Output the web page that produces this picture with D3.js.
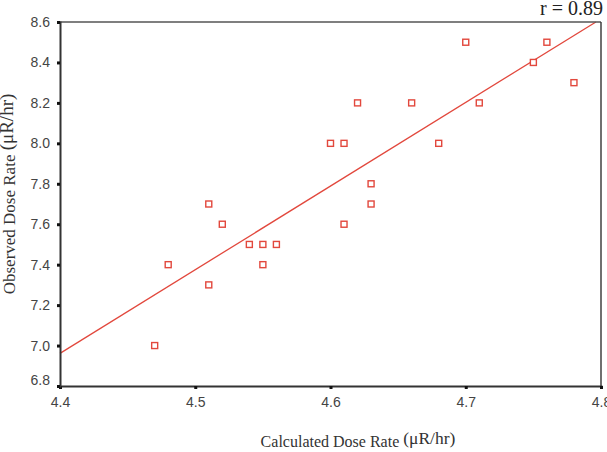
<!DOCTYPE html>
<html>
<head>
<meta charset="utf-8">
<script src="https://cdn.jsdelivr.net/npm/d3@7"></script>
<style>
  body { margin: 0; background: #fff; }
  svg { display: block; }
</style>
</head>
<body>
<script>
// chart values
const calculated = [4.47, 4.48, 4.51, 4.51, 4.52, 4.54, 4.55, 4.55, 4.56, 4.60, 4.61,
                    4.61, 4.62, 4.63, 4.63, 4.66, 4.68, 4.70, 4.71, 4.75, 4.76, 4.78];
const observed   = [7.0, 7.4, 7.3, 7.7, 7.6, 7.5, 7.5, 7.4, 7.5, 8.0, 8.0,
                    7.6, 8.2, 7.8, 7.7, 8.2, 8.0, 8.5, 8.2, 8.4, 8.5, 8.3];
const xTicks = [4.4, 4.5, 4.6, 4.7, 4.8];
const yTicks = [6.8, 7.0, 7.2, 7.4, 7.6, 7.8, 8.0, 8.2, 8.4, 8.6];
const rLabel = 'r = 0.89';

const width = 607;
const height = 452;
const margin = { top: 22, right: 6, bottom: 66, left: 60 };

const svg = d3.select('body')
  .append('svg')
  .attr('width', width)
  .attr('height', height);

const x = d3.scaleLinear()
  .domain([4.4, 4.8])
  .range([margin.left, width - margin.right]);

const y = d3.scaleLinear()
  .domain([6.8, 8.6])
  .range([height - margin.bottom, margin.top]);

const red = '#e2483d';

// least squares fit of the points
const data = calculated.map((c, i) => ({ x: c, y: observed[i] }));
const mx = d3.mean(calculated);
const my = d3.mean(observed);
const sxy = d3.sum(data, d => (d.x - mx) * (d.y - my));
const sxx = d3.sum(data, d => (d.x - mx) * (d.x - mx));
const slope = sxy / sxx;
const icpt = my - slope * mx;

// clip the line to the plot box
const x0 = 4.4;
let x1 = 4.8;
if (icpt + slope * x1 > 8.6) x1 = (8.6 - icpt) / slope;

svg.append('line')
  .attr('x1', x(x0)).attr('y1', y(icpt + slope * x0))
  .attr('x2', x(x1)).attr('y2', y(icpt + slope * x1))
  .attr('stroke', red)
  .attr('stroke-width', 1.3);

// frame: top and right
svg.append('line')
  .attr('x1', x(4.4)).attr('x2', x(4.8))
  .attr('y1', y(8.6)).attr('y2', y(8.6))
  .attr('stroke', '#555').attr('stroke-width', 1.6);
svg.append('line')
  .attr('x1', x(4.8)).attr('x2', x(4.8))
  .attr('y1', y(8.6)).attr('y2', y(6.8))
  .attr('stroke', '#333').attr('stroke-width', 1.4);

// axes
const xAxis = svg.append('g')
  .attr('transform', `translate(0,${y(6.8)})`)
  .call(d3.axisBottom(x).tickValues(xTicks).tickFormat(d3.format('.1f')).tickSize(3).tickPadding(8));

const yAxis = svg.append('g')
  .attr('transform', `translate(${x(4.4)},0)`)
  .call(d3.axisLeft(y).tickValues(yTicks).tickFormat(d3.format('.1f')).tickSize(3).tickPadding(7));

[xAxis, yAxis].forEach(g => {
  g.select('.domain').attr('stroke', '#333').attr('stroke-width', 2);
  g.selectAll('.tick line').attr('stroke', '#111').attr('stroke-width', 3);
  g.selectAll('.tick text')
    .attr('fill', '#444')
    .style('font-family', '"Liberation Sans", Arial, sans-serif')
    .style('font-size', '14px');
});

// bottom label sits a bit above its tick
yAxis.selectAll('.tick text').filter(d => d === 6.8).attr('dy', '-0.1em');

// points
svg.selectAll('rect.pt')
  .data(data)
  .enter()
  .append('rect')
  .attr('class', 'pt')
  .attr('x', d => x(d.x) - 3)
  .attr('y', d => y(d.y) - 3)
  .attr('width', 6)
  .attr('height', 6)
  .attr('fill', '#fff')
  .attr('stroke', red)
  .attr('stroke-width', 1.4);

// r label
svg.append('text')
  .attr('x', 603)
  .attr('y', 15)
  .attr('text-anchor', 'end')
  .attr('fill', '#222')
  .style('font-family', '"Liberation Serif", "Times New Roman", serif')
  .style('font-size', '20px')
  .text(rLabel);

// axis titles
const xTitle = svg.append('text')
  .attr('x', 358)
  .attr('y', 447)
  .attr('text-anchor', 'middle')
  .attr('fill', '#333')
  .style('font-family', '"Liberation Serif", "Times New Roman", serif')
  .style('font-size', '16px');
xTitle.append('tspan').text('Calculated Dose Rate ');
xTitle.append('tspan').attr('dy', -3).style('font-size', '17.5px').text('(μR/hr)');

const yTitle = svg.append('text')
  .attr('transform', 'translate(15,194) rotate(-90)')
  .attr('text-anchor', 'middle')
  .attr('fill', '#333')
  .style('font-family', '"Liberation Serif", "Times New Roman", serif')
  .style('font-size', '17px');
yTitle.append('tspan').text('Observed Dose Rate ');
yTitle.append('tspan').attr('dy', -2).style('font-size', '19px').text('(μR/hr)');
</script>
</body>
</html>
